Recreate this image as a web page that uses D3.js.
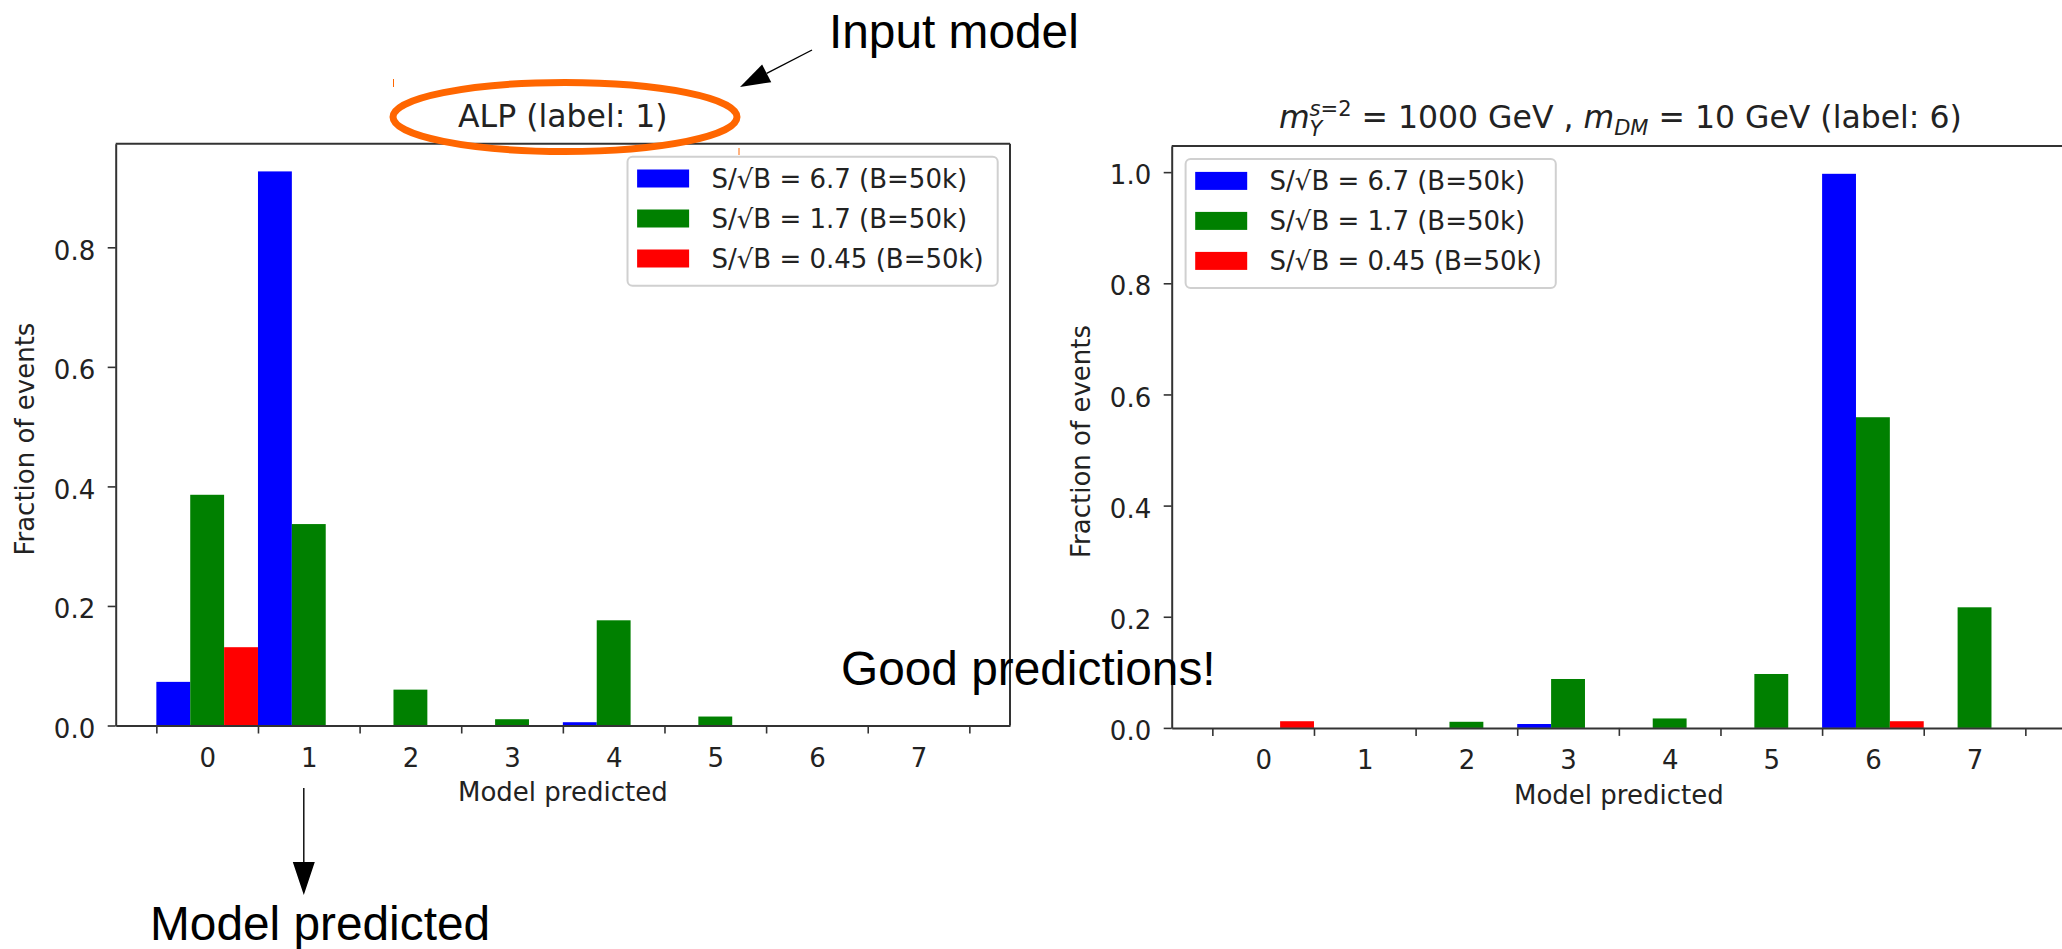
<!DOCTYPE html>
<html>
<head>
<meta charset="utf-8">
<script src="https://cdn.jsdelivr.net/npm/d3@7"></script>
<style>
  body { margin: 0; background: #fff; }
  svg { display: block; }
  text { white-space: pre; }
</style>
</head>
<body>
<svg id="chart" width="2062" height="949"></svg>
<script>
// categories on the x axis (model predicted label)
const categories = [0, 1, 2, 3, 4, 5, 6, 7];
const seriesLabels = ['S/\u221AB = 6.7 (B=50k)', 'S/\u221AB = 1.7 (B=50k)', 'S/\u221AB = 0.45 (B=50k)'];
const seriesColors = ['#0000ff', '#008000', '#ff0000'];
const yTicks = [0, 0.2, 0.4, 0.6, 0.8, 1.0];

// left panel: ALP (label: 1)
const alpHigh = [0.073, 0.927, 0, 0, 0.0055, 0, 0, 0];
const alpMid  = [0.386, 0.337, 0.060, 0.0105, 0.176, 0.015, 0, 0];
const alpLow  = [0.131, 0, 0, 0, 0, 0, 0, 0];

// right panel: m_Y = 1000 GeV, m_DM = 10 GeV (label: 6)
const spinHigh = [0, 0, 0, 0.007, 0, 0, 0.997, 0];
const spinMid  = [0, 0, 0.011, 0.088, 0.017, 0.097, 0.559, 0.217];
const spinLow  = [0.012, 0, 0, 0, 0, 0, 0.012, 0];

const svg = d3.select('#chart');
const fontMain = "'DejaVu Sans', sans-serif";
const fontNote = "'Liberation Sans', Arial, sans-serif";
const ink = '#222';

const plotW = 894.3, plotH = 581.8;

function drawPanel(p) {
  const g = svg.append('g').attr('transform', `translate(${p.left},${p.top})`);

  const yMax = d3.max(p.series, s => d3.max(s)) * 1.05; // matplotlib-ish margin
  const x = d3.scaleLinear().domain([-0.9, 7.9]).range([0, plotW]);
  const y = d3.scaleLinear().domain([0, yMax]).range([plotH, 0]);

  const band = d3.scaleBand().domain(categories).range([x(-0.5), x(7.5)]);
  const sub = d3.scaleBand().domain(d3.range(p.series.length)).range([0, band.bandwidth()]);

  p.series.forEach((vals, si) => {
    g.append('g').selectAll('rect')
      .data(vals)
      .join('rect')
      .attr('x', (d, i) => band(categories[i]) + sub(si))
      .attr('y', d => y(d))
      .attr('width', sub.bandwidth())
      .attr('height', d => plotH - y(d))
      .attr('fill', seriesColors[si]);
  });

  // tick marks at bin edges, labels at bin centres
  const edges = categories.map(c => c - 0.5).concat([categories[categories.length - 1] + 0.5]);
  g.append('g')
    .attr('transform', `translate(0,${plotH})`)
    .call(d3.axisBottom(x).tickValues(edges).tickFormat('').tickSize(8).tickSizeOuter(0));

  g.append('g')
    .attr('class', 'xlab')
    .attr('transform', `translate(0,${plotH})`)
    .call(d3.axisBottom(x).tickValues(categories).tickSize(0).tickPadding(23))
    .call(a => a.select('.domain').remove());

  g.append('g')
    .call(d3.axisLeft(y)
      .tickValues(yTicks.filter(t => t <= yMax))
      .tickFormat(d3.format('.1f'))
      .tickSize(8).tickPadding(12.5).tickSizeOuter(0))
    .selectAll('text').attr('dy', '0.45em');

  g.selectAll('.domain').attr('stroke', '#333').attr('stroke-width', 2);
  g.selectAll('.tick line').attr('stroke', '#333').attr('stroke-width', 1.6);
  g.selectAll('.tick text').attr('fill', ink).attr('font-size', 26).attr('font-family', fontMain);
  g.selectAll('g').attr('font-size', null).attr('font-family', null);

  // top + right spines
  g.append('line').attr('x1', 0).attr('x2', plotW).attr('y1', 0).attr('y2', 0)
    .attr('stroke', '#333').attr('stroke-width', 2);
  g.append('line').attr('x1', plotW).attr('x2', plotW).attr('y1', 0).attr('y2', plotH)
    .attr('stroke', '#333').attr('stroke-width', 2);

  // axis labels
  g.append('text')
    .attr('x', plotW / 2).attr('y', plotH + 76)
    .attr('text-anchor', 'middle')
    .attr('font-family', fontMain).attr('font-size', 26).attr('fill', ink)
    .text('Model predicted');

  g.append('text')
    .attr('transform', `translate(-81.5,${plotH / 2 + 4.5}) rotate(-90)`)
    .attr('text-anchor', 'middle')
    .attr('font-family', fontMain).attr('font-size', 26).attr('fill', ink)
    .text('Fraction of events');

  // legend
  const lg = g.append('g');
  const rows = lg.selectAll('g.row')
    .data(seriesLabels)
    .join('g')
    .attr('class', 'row')
    .attr('transform', (d, i) => `translate(0,${21.8 + i * 40})`);
  rows.append('rect')
    .attr('x', 9.6).attr('y', -9).attr('width', 52).attr('height', 18)
    .attr('fill', (d, i) => seriesColors[i]);
  rows.append('text')
    .attr('x', 84).attr('y', 9.4)
    .attr('font-family', fontMain).attr('font-size', 26).attr('fill', ink)
    .text(d => d);
  const maxLen = d3.max(rows.selectAll('text').nodes(), n => n.getComputedTextLength());
  const boxW = 84 + maxLen + 14, boxH = 129;
  lg.insert('rect', ':first-child')
    .attr('width', boxW).attr('height', boxH).attr('rx', 5)
    .attr('fill', 'rgba(255,255,255,0.8)')
    .attr('stroke', '#d0d0d0').attr('stroke-width', 2);
  lg.attr('transform', p.legend === 'right'
    ? `translate(${plotW - 12.3 - boxW},13)`
    : `translate(13.9,13)`);

  return g;
}

const left = drawPanel({ left: 115.7, top: 143.7, series: [alpHigh, alpMid, alpLow], legend: 'right' });
const right = drawPanel({ left: 1171.7, top: 146.1, series: [spinHigh, spinMid, spinLow], legend: 'left' });

// titles
left.append('text')
  .attr('x', plotW / 2).attr('y', -16.4)
  .attr('text-anchor', 'middle')
  .attr('font-family', fontMain).attr('font-size', 31.5).attr('fill', ink)
  .text('ALP (label: 1)');

const rt = right.append('text')
  .attr('x', plotW / 2 + 1.5).attr('y', -17.8)
  .attr('text-anchor', 'middle')
  .attr('font-family', fontMain).attr('font-size', 31.5).attr('fill', ink);
// width of subscript Y so the superscript stacks above it
const probe = svg.append('text').attr('font-family', fontMain).attr('font-size', 21)
  .attr('font-style', 'italic').text('Y');
const wY = probe.node().getComputedTextLength();
probe.remove();
rt.append('tspan').attr('font-style', 'italic').text('m');
rt.append('tspan').attr('font-style', 'italic').attr('font-size', 21).attr('dy', 8).text('Y');
rt.append('tspan').attr('font-style', 'italic').attr('font-size', 21).attr('dx', -wY).attr('dy', -20).text('s');
rt.append('tspan').attr('font-size', 21).text('=2');
rt.append('tspan').attr('dy', 12).text(' = 1000 GeV , ');
rt.append('tspan').attr('font-style', 'italic').text('m');
rt.append('tspan').attr('font-style', 'italic').attr('font-size', 21).attr('dy', 7).text('DM');
rt.append('tspan').attr('dy', -7).text(' = 10 GeV (label: 6)');

// ---- annotations on top of the figure ----
const orange = '#ff6600';
svg.append('ellipse')
  .attr('cx', 565).attr('cy', 117).attr('rx', 172).attr('ry', 34.5)
  .attr('fill', 'none').attr('stroke', orange).attr('stroke-width', 7);
svg.append('line').attr('x1', 393.5).attr('x2', 393.5).attr('y1', 79).attr('y2', 87)
  .attr('stroke', orange).attr('stroke-width', 1);
svg.append('line').attr('x1', 739).attr('x2', 739).attr('y1', 148).attr('y2', 155)
  .attr('stroke', orange).attr('stroke-width', 1);

function arrow(x1, y1, x2, y2, headLen, headHalf) {
  const dx = x2 - x1, dy = y2 - y1, L = Math.hypot(dx, dy);
  const ux = dx / L, uy = dy / L;
  const bx = x2 - ux * headLen, by = y2 - uy * headLen;
  svg.append('line').attr('x1', x1).attr('y1', y1).attr('x2', bx).attr('y2', by)
    .attr('stroke', '#000').attr('stroke-width', 1.4);
  svg.append('path')
    .attr('d', `M${x2},${y2}L${bx - uy * headHalf},${by + ux * headHalf}L${bx + uy * headHalf},${by - ux * headHalf}Z`)
    .attr('fill', '#000');
}

arrow(812, 50, 740, 87, 30, 10);
arrow(303.8, 788, 303.8, 895, 33, 11);

const notes = [
  { text: 'Input model', x: 829, y: 48.3 },
  { text: 'Good predictions!', x: 841, y: 685 },
  { text: 'Model predicted', x: 150, y: 940 },
];
svg.selectAll('text.note')
  .data(notes)
  .join('text')
  .attr('class', 'note')
  .attr('x', d => d.x).attr('y', d => d.y)
  .attr('font-family', fontNote).attr('font-size', 47.8).attr('fill', '#000')
  .text(d => d.text);
</script>
</body>
</html>
